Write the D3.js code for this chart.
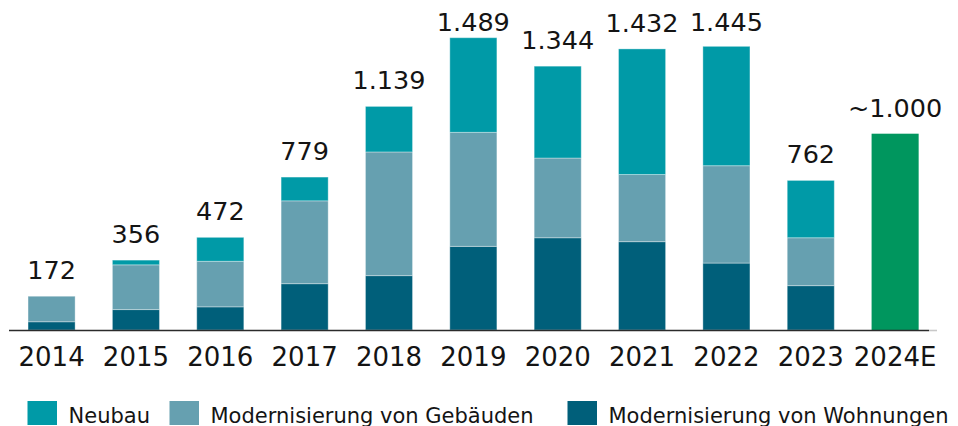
<!DOCTYPE html>
<html>
<head>
<meta charset="utf-8">
<script src="https://cdn.jsdelivr.net/npm/d3@7"></script>
<style>
  html, body { margin: 0; padding: 0; background: #fff; }
  svg { display: block; font-family: "DejaVu Sans", Verdana, sans-serif; }
</style>
</head>
<body>
<svg id="chart" width="958" height="426"></svg>
<script>
// ---- data ----
const years = ["2014", "2015", "2016", "2017", "2018", "2019", "2020", "2021", "2022", "2023", "2024E"];
const neubau = [0, 24, 122, 121, 232, 482, 468, 640, 608, 292, 0];
const gebaeude = [130, 228, 232, 422, 630, 581, 406, 342, 496, 244, 0];
const wohnungen = [42, 104, 118, 236, 277, 426, 470, 450, 341, 226, 0];
const estimate = [0, 0, 0, 0, 0, 0, 0, 0, 0, 0, 1000];
const totalLabels = ["172", "356", "472", "779", "1.139", "1.489", "1.344", "1.432", "1.445", "762", "~1.000"];
const seriesNames = ["Neubau", "Modernisierung von Gebäuden", "Modernisierung von Wohnungen"];

// ---- styles ----
const colors = {
  wohnungen: "#005f7a",
  gebaeude: "#66a0b0",
  neubau: "#009aa7",
  estimate: "#00965e"
};

const svg = d3.select("#chart");
const baseY = 330;

const x = d3.scaleBand()
  .domain(years)
  .range([9.4, 937.3])
  .paddingInner(0.442)
  .paddingOuter(0.221);

const y = d3.scaleLinear()
  .domain([0, 1500])
  .range([baseY, baseY - 1500 * 0.1963]);

const rows = years.map((yr, i) => ({
  year: yr,
  wohnungen: wohnungen[i],
  gebaeude: gebaeude[i],
  neubau: neubau[i],
  estimate: estimate[i]
}));

const keys = ["wohnungen", "gebaeude", "neubau", "estimate"];
const stacked = d3.stack().keys(keys)(rows);

const g = svg.append("g");
stacked.forEach(layer => {
  g.append("g")
    .selectAll("rect")
    .data(layer.filter(d => d[1] - d[0] > 0))
    .join("rect")
    .attr("x", d => x(d.data.year))
    .attr("width", x.bandwidth())
    .attr("y", d => y(d[1]))
    .attr("height", d => y(d[0]) - y(d[1]))
    .attr("fill", colors[layer.key])
    .attr("stroke", layer.key === "estimate" ? "none" : "rgba(255,255,255,0.35)")
    .attr("stroke-width", 1);
});

// axis (baseline + year labels)
const axis = d3.axisBottom(x).tickSize(0).tickPadding(0);
const ax = svg.append("g")
  .attr("transform", `translate(0,${baseY})`)
  .call(axis);
ax.select(".domain")
  .attr("stroke", "#2b2b2b")
  .attr("stroke-width", 1.6)
  .attr("d", "M9,0.5H929");
ax.append("line")
  .attr("x1", 929).attr("x2", 937)
  .attr("y1", 0.5).attr("y2", 0.5)
  .attr("stroke", "#c8c8c8").attr("stroke-width", 1.6);
ax.selectAll(".tick text")
  .attr("font-family", "DejaVu Sans, Verdana, sans-serif")
  .attr("font-size", 26)
  .attr("fill", "#141414")
  .attr("dy", 0)
  .attr("y", 35.5);

// total labels (kept inside the picture at the top)
const totals = rows.map(r => r.wohnungen + r.gebaeude + r.neubau + r.estimate);
svg.append("g")
  .selectAll("text")
  .data(years)
  .join("text")
  .attr("x", d => x(d) + x.bandwidth() / 2)
  .attr("y", (d, i) => Math.max(y(totals[i]) - 17, 31))
  .attr("text-anchor", "middle")
  .attr("font-size", 25.5)
  .attr("fill", "#141414")
  .text((d, i) => totalLabels[i]);

// legend
const legendColors = [colors.neubau, colors.gebaeude, colors.wohnungen];
const legendX = [27.5, 169.5, 567.5];
const lg = svg.append("g");
seriesNames.forEach((name, i) => {
  lg.append("rect")
    .attr("x", legendX[i]).attr("y", 401)
    .attr("width", 29.5).attr("height", 24)
    .attr("fill", legendColors[i]);
  lg.append("text")
    .attr("x", legendX[i] + 41)
    .attr("y", 422.5)
    .attr("font-size", 21)
    .attr("fill", "#141414")
    .text(name);
});
</script>
</body>
</html>
